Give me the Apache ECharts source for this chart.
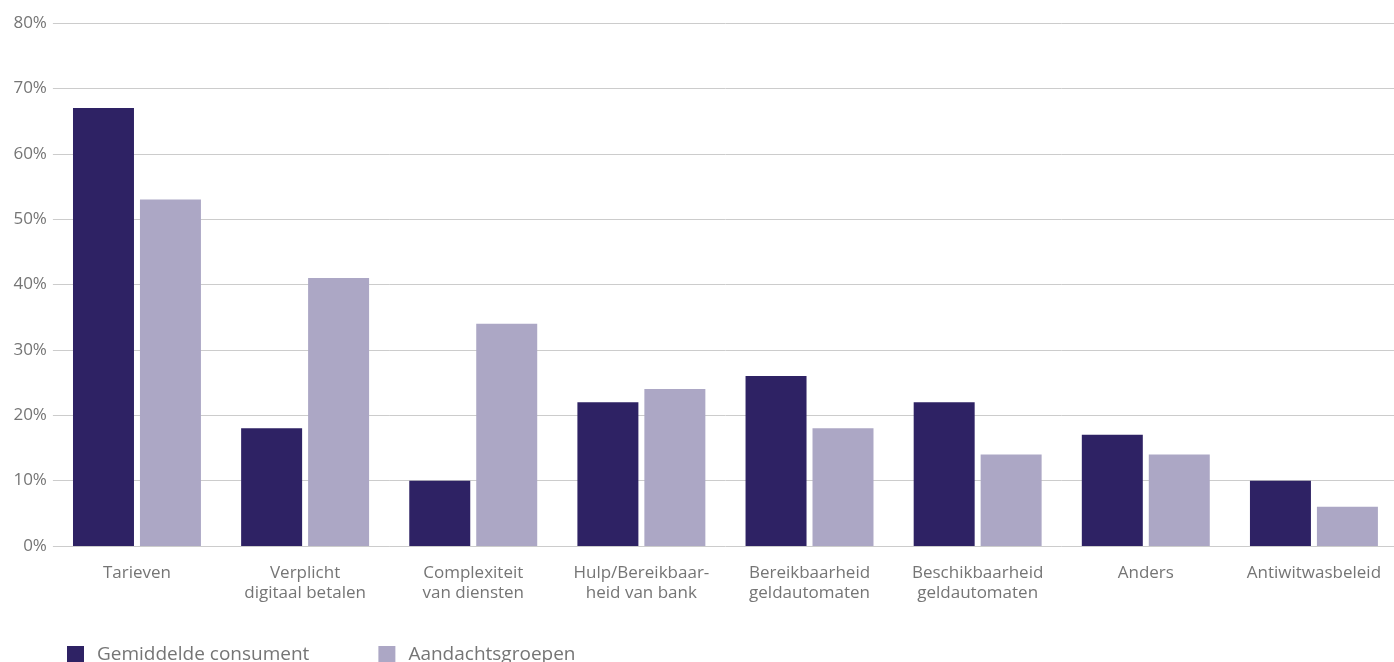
<!DOCTYPE html>
<html><head><meta charset="utf-8">
<script src="https://cdn.jsdelivr.net/npm/echarts@6/dist/echarts.min.js"></script>
<style>html,body{margin:0;padding:0;background:#fff;overflow:hidden}#c{width:1398px;height:662px}</style>
</head><body><div id="c"></div>
<script>
const categories = ["Tarieven","Verplicht\ndigitaal betalen","Complexiteit\nvan diensten","Hulp/Bereikbaar-\nheid van bank","Bereikbaarheid\ngeldautomaten","Beschikbaarheid\ngeldautomaten","Anders","Antiwitwasbeleid"];
const seriesNames = ["Gemiddelde consument","Aandachtsgroepen"];
const gemiddeld = [67,18,10,22,26,22,17,10];
const aandacht = [53,41,34,24,18,14,14,6];
const yTicks = [0,10,20,30,40,50,60,70,80];
const font = "Open Sans";
const chart = echarts.init(document.getElementById('c'));
chart.setOption({
  animation:false,
  textStyle:{fontFamily:font},
  grid:{left:52.9,top:23,right:0,height:523,containLabel:false},
  legend:{left:67,top:645,padding:0,itemWidth:17,itemHeight:17,itemGap:69,icon:'rect',
    textStyle:{fontFamily:font,fontSize:19,color:'#757575',padding:[0,0,0,8]},
    data:seriesNames},
  xAxis:{type:'category',data:categories,
    axisLine:{show:false},axisTick:{show:false},
    axisLabel:{fontFamily:font,fontSize:17,color:'#757575',lineHeight:20,margin:17,interval:0}},
  yAxis:{type:'value',min:yTicks[0],max:yTicks[yTicks.length-1],interval:10,
    axisLabel:{formatter:'{value}%',fontFamily:font,fontSize:17,color:'#757575',margin:6},
    splitLine:{lineStyle:{color:'#cccccc',width:1}},axisLine:{show:false},axisTick:{show:false}},
  series:[
    {name:seriesNames[0],type:'bar',data:gemiddeld,itemStyle:{color:'#2e2264'},barGap:'9.8%',barCategoryGap:'23.9%'},
    {name:seriesNames[1],type:'bar',data:aandacht,itemStyle:{color:'#aca7c5'}}
  ]
});
</script></body></html>
